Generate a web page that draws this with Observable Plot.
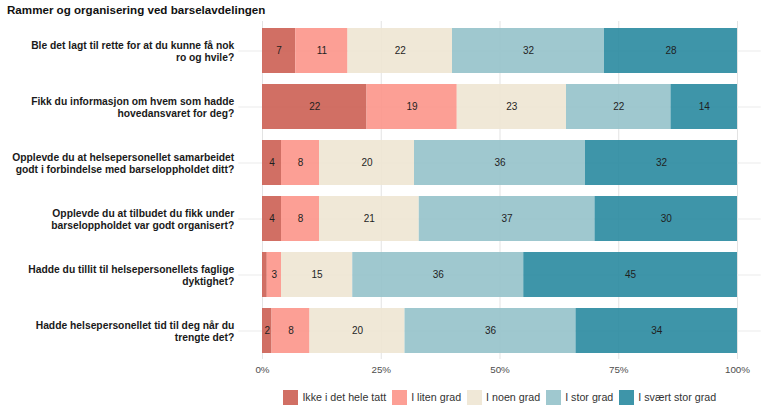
<!DOCTYPE html>
<html>
<head>
<meta charset="utf-8">
<script src="https://cdn.jsdelivr.net/npm/d3@7"></script>
<script src="https://cdn.jsdelivr.net/npm/@observablehq/plot@0.6"></script>
<style>
  html, body { margin: 0; padding: 0; background: #fff; }
  #wrap { position: relative; width: 768px; height: 416px; font-family: "Liberation Sans", Arial, sans-serif; overflow: hidden; }
  #title { position: absolute; left: 7px; top: 4.2px; font-size: 11.6px; line-height: 1; font-weight: bold; color: #111; white-space: nowrap; }
  #chart { position: absolute; left: 0; top: 0; }
  #legend { position: absolute; left: 238px; width: 523px; top: 390px; display: flex; justify-content: center; align-items: center; font-size: 10.7px; color: #333; }
  .item { display: flex; align-items: center; margin: 0 2.75px; }
  .sw { width: 15px; height: 14.5px; margin-right: 4.5px; }
</style>
</head>
<body>
<div id="wrap">
  <div id="chart"></div>
  <div id="title">Rammer og organisering ved barselavdelingen</div>
  <div id="legend"></div>
</div>
<script>
const questions = [
  "Ble det lagt til rette for at du kunne få nok\nro og hvile?",
  "Fikk du informasjon om hvem som hadde\nhovedansvaret for deg?",
  "Opplevde du at helsepersonellet samarbeidet\ngodt i forbindelse med barseloppholdet ditt?",
  "Opplevde du at tilbudet du fikk under\nbarseloppholdet var godt organisert?",
  "Hadde du tillit til helsepersonellets faglige\ndyktighet?",
  "Hadde helsepersonellet tid til deg når du\ntrengte det?"
];
const categories = ["Ikke i det hele tatt", "I liten grad", "I noen grad", "I stor grad", "I svært stor grad"];
const colors = ["#cc5f53", "#fc958a", "#eee5d3", "#95c2ca", "#298aa0"];

const ikke   = [7, 22, 4, 4, 1, 2];
const liten  = [11, 19, 8, 8, 3, 8];
const noen   = [22, 23, 20, 21, 15, 20];
const stor   = [32, 22, 36, 37, 36, 36];
const svaert = [28, 14, 32, 30, 45, 34];

const xTicks = [0, 0.25, 0.5, 0.75, 1];
const xTickLabels = ["0%", "25%", "50%", "75%", "100%"];

const series = [ikke, liten, noen, stor, svaert];
const data = questions.flatMap((q, i) =>
  categories.map((c, j) => ({question: q, category: c, value: series[j][i]}))
);

const chart = Plot.plot({
  width: 768,
  height: 381,
  marginTop: 21,
  marginBottom: 22,
  marginLeft: 238.25,
  marginRight: 7.25,
  style: {fontFamily: "Liberation Sans, Arial, sans-serif", background: "transparent"},
  x: {domain: [-0.05, 1.05], axis: null},
  y: {domain: questions, axis: null, paddingInner: 0.2, paddingOuter: 0.1},
  color: {domain: categories, range: colors},
  marks: [
    Plot.ruleX(xTicks, {x: d => d, stroke: "#e3e3e3", strokeWidth: 1}),
    Plot.ruleY(questions, {y: d => d, stroke: "#ebebeb", strokeWidth: 1}),
    Plot.barX(data, {x: d => d.value / 100, y: "question", fill: "category", fillOpacity: 0.9}),
    Plot.textX(data, Plot.stackX({
      x: d => d.value / 100, y: "question", z: "category",
      text: d => d.value >= 2 ? String(d.value) : "",
      fontSize: 10, fill: "#1f1f1f"
    })),
    Plot.text(questions, {
      y: d => d, frameAnchor: "left", textAnchor: "end", dx: -4.5,
      text: d => d, fontWeight: "bold", fontSize: 10.3, lineHeight: 1.22, fill: "#1a1a1a"
    }),
    Plot.text(xTicks, {
      x: d => d, frameAnchor: "bottom", dy: 10.5, lineAnchor: "middle",
      text: (d, i) => xTickLabels[i], fill: "#4d4d4d", fontSize: 9.8
    })
  ]
});
document.getElementById("chart").appendChild(chart);

const legend = document.getElementById("legend");
categories.forEach((c, i) => {
  const item = document.createElement("div");
  item.className = "item";
  const sw = document.createElement("div");
  sw.className = "sw";
  sw.style.background = colors[i];
  sw.style.opacity = 0.9;
  const t = document.createElement("span");
  t.textContent = c;
  item.appendChild(sw);
  item.appendChild(t);
  legend.appendChild(item);
});
</script>
</body>
</html>
